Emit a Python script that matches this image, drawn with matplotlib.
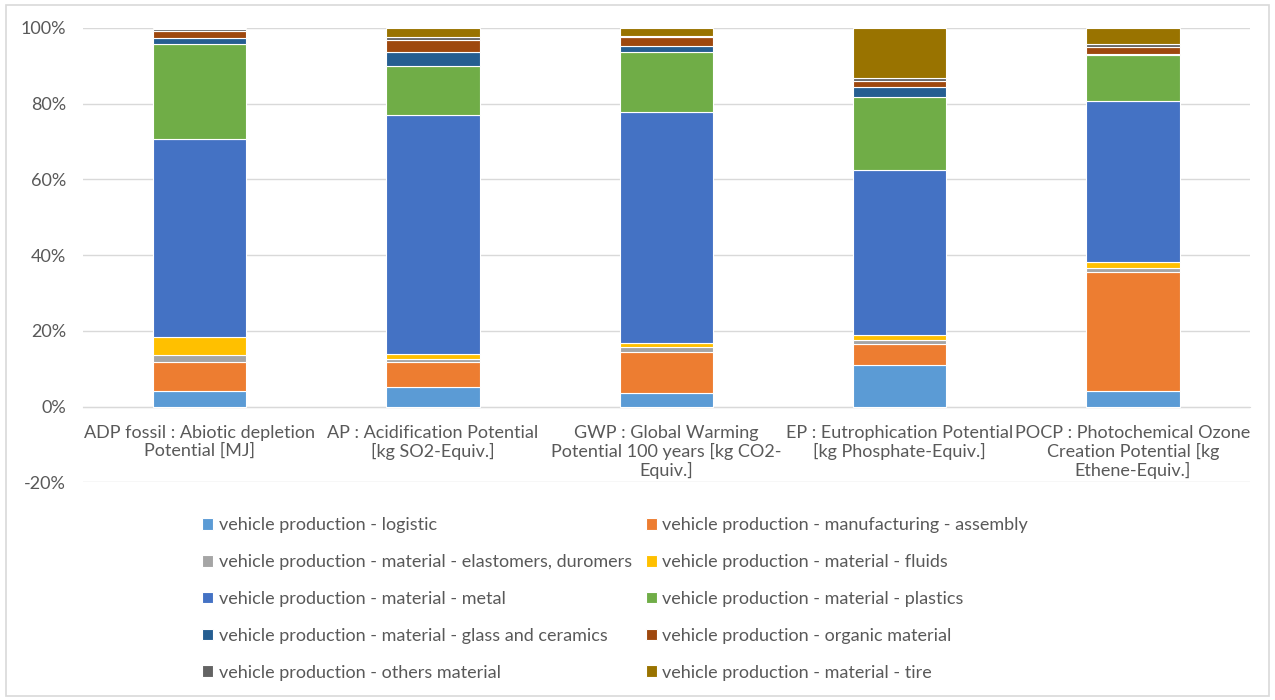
import numpy as np
import matplotlib.pyplot as plt
from matplotlib.patches import Rectangle
from matplotlib.ticker import FuncFormatter

plt.rcParams['font.family'] = ['Lato', 'DejaVu Sans']

categories = ['ADP fossil : Abiotic depletion\nPotential [MJ]',
              'AP : Acidification Potential\n[kg SO2-Equiv.]',
              'GWP : Global Warming\nPotential 100 years [kg CO2-\nEquiv.]',
              'EP : Eutrophication Potential\n[kg Phosphate-Equiv.]',
              'POCP : Photochemical Ozone\nCreation Potential [kg\nEthene-Equiv.]']

# shares in % per impact category
logistic = [4.0, 5.1, 3.6, 10.9, 4.2]
manufacturing = [7.7, 6.6, 10.8, 5.5, 31.3]
elastomers = [1.9, 0.9, 1.4, 1.3, 1.0]
fluids = [4.9, 1.4, 1.0, 1.3, 1.6]
metal = [52.2, 63.0, 61.1, 43.5, 42.7]
plastics = [25.1, 13.0, 15.7, 19.4, 12.2]
glass = [1.6, 3.6, 1.7, 2.6, 0.2]
organic = [1.8, 3.3, 2.3, 1.6, 1.7]
others = [0.6, 0.8, 0.4, 0.6, 0.8]
tire = [0.2, 2.3, 2.0, 13.3, 4.3]

names = ['vehicle production - logistic',
         'vehicle production - manufacturing - assembly',
         'vehicle production - material - elastomers, duromers',
         'vehicle production - material - fluids',
         'vehicle production - material - metal',
         'vehicle production - material - plastics',
         'vehicle production - material - glass and ceramics',
         'vehicle production - organic material',
         'vehicle production - others material',
         'vehicle production - material - tire']
series = [logistic, manufacturing, elastomers, fluids, metal,
          plastics, glass, organic, others, tire]
colors = ['#5B9BD5', '#ED7D31', '#A5A5A5', '#FFC000', '#4472C4',
          '#70AD47', '#255E91', '#9E480E', '#636363', '#997300']

txt = '#595959'
fig = plt.figure(figsize=(12.75, 7), dpi=100)
ax = fig.add_axes([0.065, 0.311, 0.915, 0.649])

x = np.arange(len(categories))
bottom = np.zeros(len(categories))
for vals, nm, c in zip(series, names, colors):
    v = np.array(vals) / 100
    ax.bar(x, v, 0.4, bottom=bottom, color=c, label=nm,
           edgecolor='white', linewidth=0.8, zorder=3)
    bottom += v

ax.set_xlim(-0.5, len(categories) - 0.5)
ax.set_ylim(-0.2, 1.0)
ax.set_yticks(np.arange(-0.2, 1.01, 0.2))
ax.yaxis.set_major_formatter(FuncFormatter(lambda v, p: f'{v*100:.0f}%'))
ax.grid(axis='y', color='#d9d9d9', linewidth=1, zorder=0)
for s in ['top', 'right', 'left']:
    ax.spines[s].set_visible(False)
ax.spines['bottom'].set_position(('data', 0))
ax.spines['bottom'].set_color('#d9d9d9')
ax.set_xticks(x)
ax.set_xticklabels(categories, fontsize=13, color=txt, linespacing=1.15)
ax.tick_params(axis='x', length=0, pad=13)
ax.tick_params(axis='y', length=0, labelsize=13, labelcolor=txt, pad=12)

# legend filled row by row, two columns
h, l = ax.get_legend_handles_labels()
order = [0, 2, 4, 6, 8, 1, 3, 5, 7, 9]
fig.legend([h[i] for i in order], [l[i] for i in order],
           loc='upper left', bbox_to_anchor=(0.146, 0.284), ncol=2,
           frameon=False, fontsize=13, labelcolor=txt, handlelength=0.6,
           handleheight=0.6, handletextpad=0.3, columnspacing=0.8,
           labelspacing=1.15)

fig.patches.append(Rectangle((0.005, 0.006), 0.99, 0.987, transform=fig.transFigure,
                             fill=False, edgecolor='#d9d9d9', linewidth=1.2))

fig.savefig('out.png', dpi=100)
